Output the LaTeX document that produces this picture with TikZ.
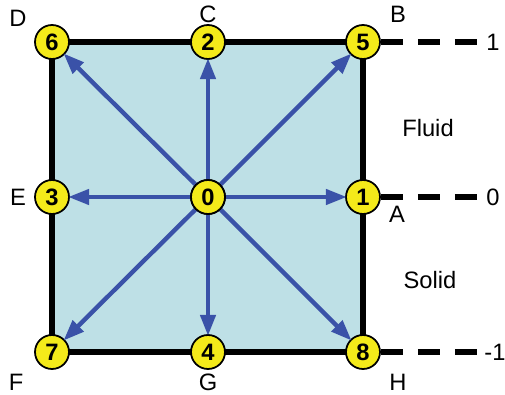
\documentclass[tikz,border=0pt]{standalone}
\usepackage{fontspec}
\setmainfont{Liberation Sans}
\usetikzlibrary{arrows.meta}
\definecolor{cellblue}{RGB}{190,224,230}
\definecolor{arrowblue}{RGB}{58,82,168}
\definecolor{dotyellow}{RGB}{244,234,26}
\tikzset{pt/.style={circle,draw=black,line width=1pt,fill=dotyellow,inner sep=0pt,minimum size=0.68cm,font=\bfseries\fontsize{13.5}{13.5}\selectfont},
lbl/.style={font=\fontsize{13.5}{13.5}\selectfont},
vel/.style={arrowblue,line width=2.5pt,-{Triangle[length=0.42cm,width=0.3cm]},shorten >=-1pt},
lvl/.style={line width=3.2pt,dash pattern=on 0.44cm off 0.3cm}}
\begin{document}
\begin{tikzpicture}[x=0.02cm,y=-0.02cm]
\useasboundingbox(0,0)rectangle(505,395);
\fill[cellblue](52,42)rectangle(363,352);
\draw[line width=3pt](52,42)rectangle(363,352);
% lattice nodes
\node[pt](n0)at(208,197){0};
\node[pt](n1)at(363,197){1};\node[pt](n2)at(208,42){2};\node[pt](n3)at(52,197){3};\node[pt](n4)at(208,352){4};
\node[pt](n5)at(363,42){5};\node[pt](n6)at(52,42){6};\node[pt](n7)at(52,352){7};\node[pt](n8)at(363,352){8};
\foreach\k in{1,...,8}{\draw[vel](n0)--(n\k);}
\node[pt]at(n0){0};
% corner letters
\node[lbl](la)at(397,214){A};\node[lbl](lb)at(398,14){B};\node[lbl](lc)at(208,14){C};\node[lbl](ld)at(18,18){D};
\node[lbl](le)at(18,197){E};\node[lbl](lf)at(16,382){F};\node[lbl](lg)at(208,382){G};\node[lbl](lh)at(398,382){H};
% levels
\node[lbl](top)at(493,42){1};\node[lbl](mid)at(493,197){0};\node[lbl](bot)at(495,352){-1};
\draw[lvl](n5.east)--(top.west);\draw[lvl](n1.east)--(mid.west);\draw[lvl](n8.east)--(bot.west);
\node[lbl](fluid)at(428,128){Fluid};\node[lbl](solid)at(430,280){Solid};
\end{tikzpicture}
\end{document}
